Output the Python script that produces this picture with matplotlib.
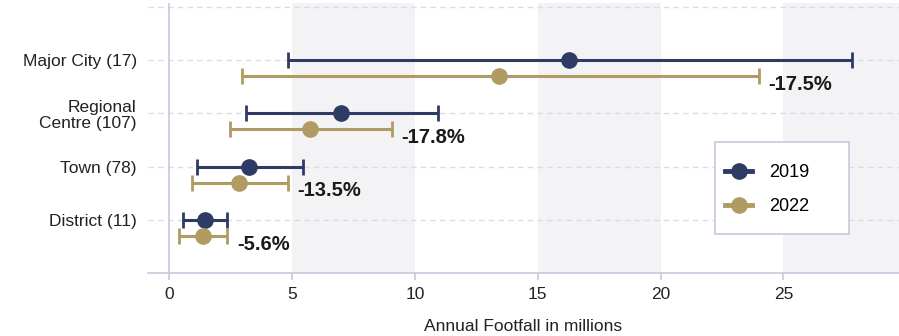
import numpy as np
import matplotlib.pyplot as plt
from matplotlib.lines import Line2D
from matplotlib.patches import Rectangle

plt.rcParams['font.family'] = ['Liberation Sans', 'DejaVu Sans']

# footfall by location type (millions): central value plus low/high range
categories = ['Major City (17)', 'Regional\nCentre (107)', 'Town (78)', 'District (11)']
mid_2019 = [16.29, 7.00, 3.27, 1.46]
low_2019 = [4.85, 3.14, 1.13, 0.58]
high_2019 = [27.78, 10.93, 5.44, 2.35]
mid_2022 = [13.44, 5.75, 2.83, 1.38]
low_2022 = [2.97, 2.48, 0.95, 0.42]
high_2022 = [24.00, 9.07, 4.82, 2.37]
changes = ['-17.5%', '-17.8%', '-13.5%', '-5.6%']

navy = '#2e3c65'
gold = '#b09b63'
lav = '#c9c7dc'
ink = '#222222'

fig = plt.figure(figsize=(8.99, 3.36), dpi=100)
ax = fig.add_axes([0.1646, 0.1875, 0.8354, 0.8035])

ypos = np.arange(len(categories))
off = 0.3

# shaded bands every other 5 units
for a in [5, 15, 25]:
    ax.axvspan(a, a + 5, color='#f3f3f6', zorder=0, lw=0)

for yv in [-1, 0, 1, 2, 3]:
    ax.axhline(yv, color='#dcdce6', ls=(0, (4, 3)), lw=1.0, zorder=1)

ax.axvline(0, color=lav, lw=1.2, zorder=1)

def draw(mid, lo, hi, y, c):
    mid = np.array(mid)
    err = [mid - np.array(lo), np.array(hi) - mid]
    ax.errorbar(mid, y, xerr=err, fmt='o', color=c, ms=11, elinewidth=2.2,
                capsize=6, capthick=2.0, zorder=3)

draw(mid_2019, low_2019, high_2019, ypos, navy)
draw(mid_2022, low_2022, high_2022, ypos + off, gold)

for i, txt in enumerate(changes):
    ax.annotate(txt, (high_2022[i], ypos[i] + off), xytext=(7, -6),
                textcoords='offset points', ha='left', va='center',
                fontsize=14.5, fontweight='bold', color='#1a1a1a')

ax.set_xlim(-0.86, 29.7)
ax.set_ylim(4, -1.075)
ax.set_yticks(ypos)
ax.set_yticklabels(categories, fontsize=12.5, color=ink, linespacing=1.05)
ax.set_xticks([0, 5, 10, 15, 20, 25])
ax.tick_params(axis='y', left=False, length=0, pad=8)
ax.tick_params(axis='x', colors=lav, labelcolor=ink, labelsize=12.5,
               length=5, width=1.2, pad=5)
ax.set_xlabel('Annual Footfall in millions', fontsize=12.5, color=ink, labelpad=12)

for s in ['top', 'right', 'left']:
    ax.spines[s].set_visible(False)
ax.spines['bottom'].set_color(lav)
ax.spines['bottom'].set_linewidth(1.2)

# legend box drawn separately so it can be wider than its content
ax.add_patch(Rectangle((715 / 899, 1 - 234 / 336), 134 / 899, 92 / 336,
                       transform=fig.transFigure, facecolor='white',
                       edgecolor=lav, lw=1.2, zorder=4))
handles = [Line2D([], [], color=navy, marker='o', ms=11, lw=3.5),
           Line2D([], [], color=gold, marker='o', ms=11, lw=3.5)]
leg = ax.legend(handles, ['2019', '2022'], loc='center left',
                bbox_to_anchor=(725 / 899, 1 - 189.5 / 336),
                bbox_transform=fig.transFigure, fontsize=13, frameon=False,
                handlelength=1.5, borderpad=0, labelspacing=0.95,
                handletextpad=0.95, borderaxespad=0)
leg.set_zorder(5)

fig.savefig('out.png', dpi=100)
